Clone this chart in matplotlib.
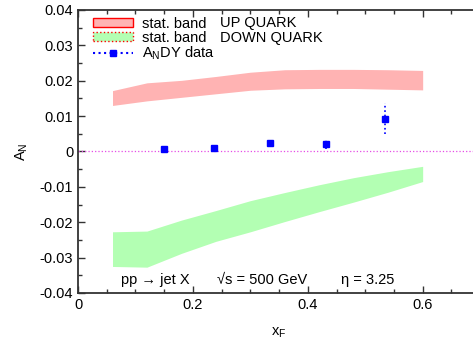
import numpy as np
import matplotlib.pyplot as plt
from matplotlib.patches import Patch
from matplotlib.lines import Line2D

plt.rcParams['font.family'] = ['Liberation Sans', 'DejaVu Sans']
plt.rcParams['font.size'] = 10.5
plt.rcParams['mathtext.fontset'] = 'custom'
plt.rcParams['mathtext.rm'] = 'Liberation Sans'
plt.rcParams['mathtext.it'] = 'Liberation Sans'

# band x grid
band_x = [0.06, 0.12, 0.18, 0.24, 0.30, 0.36, 0.42, 0.48, 0.54, 0.60]

# up quark band
up_lo = [0.0130, 0.0143, 0.0153, 0.0163, 0.0173, 0.0177, 0.0178, 0.0178, 0.0176, 0.0174]
up_hi = [0.0172, 0.0194, 0.0201, 0.0212, 0.0224, 0.0231, 0.0232, 0.0232, 0.0231, 0.0229]

# down quark band
down_lo = [-0.0325, -0.0327, -0.0288, -0.0254, -0.0227, -0.0198, -0.0170, -0.0143, -0.0115, -0.0085]
down_hi = [-0.0227, -0.0225, -0.0194, -0.0167, -0.0139, -0.0116, -0.0094, -0.0074, -0.0057, -0.0042]

# ANDY data
data_x = [0.149, 0.236, 0.334, 0.432, 0.534]
data_y = [0.0008, 0.0011, 0.0025, 0.0020, 0.0093]
data_err = [0.0003, 0.0003, 0.0004, 0.0012, 0.0043]

fig = plt.figure(figsize=(4.73, 3.39), dpi=100)
ax = fig.add_axes([0.165, 0.1357, 0.85, 0.835])

ax.fill_between(band_x, up_lo, up_hi, color='#ffb3b3', lw=0)
ax.fill_between(band_x, down_lo, down_hi, color='#b3ffb3', lw=0)
ax.axhline(0, color='#e64ce6', ls=':', lw=0.9)
eb = ax.errorbar(data_x, data_y, yerr=data_err, fmt='s', color='#0000ff', ms=4.3,
                 ecolor='#0000ff', elinewidth=1.2, capsize=0)
eb[2][0].set_linestyle(':')

ax.set_xlim(0, 0.7)
ax.set_ylim(-0.04, 0.04)
ax.set_xticks([0, 0.2, 0.4, 0.6])
ax.set_xticklabels(['0', '0.2', '0.4', '0.6'])
ax.set_xticks(np.arange(0, 0.71, 0.05), minor=True)
ax.set_yticks(np.arange(-0.04, 0.041, 0.01))
ax.set_yticklabels(['-0.04', '-0.03', '-0.02', '-0.01', '0', '0.01', '0.02', '0.03', '0.04'])
ax.set_yticks(np.arange(-0.04, 0.041, 0.005), minor=True)
ax.tick_params(which='both', direction='in', top=True, right=False, width=1, colors='#333333',
               labelcolor='black')
ax.tick_params(which='major', length=5)
ax.tick_params(which='minor', length=3)
ax.spines['right'].set_visible(False)
for s in ['left', 'bottom', 'top']:
    ax.spines[s].set_linewidth(1.3)
    ax.spines[s].set_color('#333333')

ax.set_xlabel('x$_\\mathregular{F}$', labelpad=10)
ax.set_ylabel('A$_\\mathregular{N}$', labelpad=7)

handles = [
    Patch(facecolor='#ffb3b3', edgecolor='#ff0000', lw=1),
    Patch(facecolor='#b3ffb3', edgecolor='#ff0000', lw=1, ls=':'),
    Line2D([], [], color='#0000ff', ls=':', marker='s', ms=4.3),
]
labels = ['stat. band', 'stat. band', 'A$_\\mathregular{N}$DY data']
leg = ax.legend(handles, labels, loc='upper left', frameon=False, handlelength=2.74,
                handleheight=0.6, labelspacing=0.0, borderaxespad=0, borderpad=0,
                bbox_to_anchor=(0.037, 0.976), handletextpad=0.62)
ax.text(0.247, 0.0362, 'UP QUARK', va='center')
ax.text(0.247, 0.0320, 'DOWN QUARK', va='center')

ax.text(0.075, -0.0362, 'pp \u2192 jet X', va='center')
ax.text(0.242, -0.0362, '\u221as = 500 GeV', va='center')
ax.text(0.457, -0.0362, '\u03b7 = 3.25', va='center')

fig.savefig('out.png', dpi=100)
